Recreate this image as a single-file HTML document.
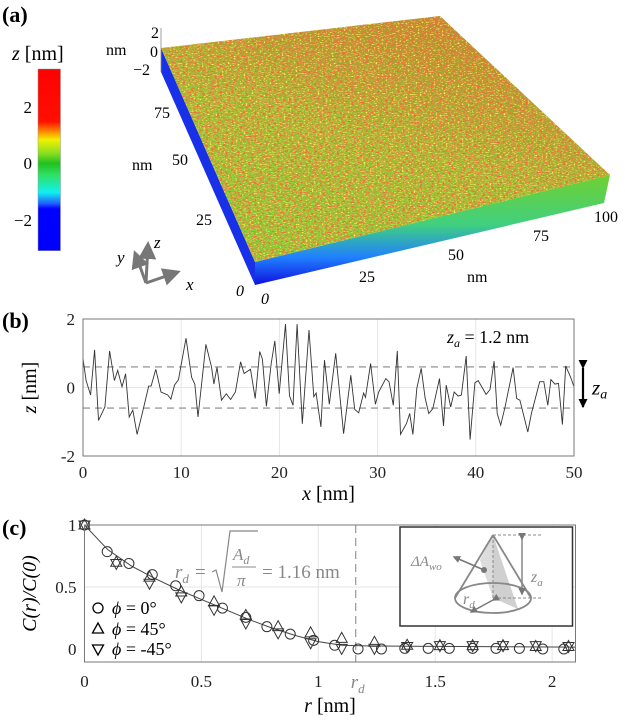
<!DOCTYPE html>
<html><head><meta charset="utf-8"><style>
body{margin:0;background:#fff}
svg{display:block;font-family:"Liberation Serif",serif}
</style></head><body>
<svg id="fig" width="625" height="721" viewBox="0 0 625 721">
<defs>
<linearGradient id="cbar" x1="0" y1="0" x2="0" y2="1">
<stop offset="0" stop-color="#ff0000"/><stop offset="0.29" stop-color="#ff1000"/>
<stop offset="0.34" stop-color="#ff8000"/><stop offset="0.39" stop-color="#f0f000"/>
<stop offset="0.46" stop-color="#90e020"/><stop offset="0.52" stop-color="#20c020"/>
<stop offset="0.58" stop-color="#30e060"/><stop offset="0.68" stop-color="#10f0f0"/>
<stop offset="0.74" stop-color="#2060ff"/><stop offset="0.77" stop-color="#0000ff"/><stop offset="1" stop-color="#0000ff"/>
</linearGradient>
<linearGradient id="topg" x1="0.2" y1="1" x2="0.7" y2="0">
<stop offset="0" stop-color="#7ed038"/><stop offset="0.5" stop-color="#9cc038"/><stop offset="1" stop-color="#b88a30"/>
</linearGradient>
<linearGradient id="frontg" x1="0" y1="0" x2="0" y2="1">
<stop offset="0" stop-color="#70d030"/><stop offset="0.45" stop-color="#40d080"/><stop offset="0.75" stop-color="#2080ff"/><stop offset="1" stop-color="#1010e0"/>
</linearGradient>
<filter id="speck" x="0" y="0" width="1" height="1">
<feTurbulence type="fractalNoise" baseFrequency="0.35 0.8" numOctaves="2" seed="3" result="n"/>
<feColorMatrix in="n" type="matrix" values="0 0 0 0 0.85  0 0 0 0 0.15  0 0 0 0 0.05  5 0 0 0 -2.4" result="r"/>
<feComposite in="r" in2="SourceGraphic" operator="in" result="rc"/>
<feTurbulence type="fractalNoise" baseFrequency="0.5 0.9" numOctaves="1" seed="11" result="n2"/>
<feColorMatrix in="n2" type="matrix" values="0 0 0 0 0.95  0 0 0 0 0.9  0 0 0 0 0.1  5 0 0 0 -2.7" result="y"/>
<feComposite in="y" in2="SourceGraphic" operator="in" result="yc"/>
<feMerge><feMergeNode in="SourceGraphic"/><feMergeNode in="yc"/><feMergeNode in="rc"/></feMerge>
</filter>
<marker id="ah" markerWidth="6" markerHeight="6" refX="5" refY="3" orient="auto"><path d="M0,0 L6,3 L0,6z" fill="#777"/></marker>
<marker id="ahk" markerUnits="userSpaceOnUse" markerWidth="9" markerHeight="9" refX="8" refY="4.5" orient="auto"><path d="M0,0 L9,4.5 L0,9z" fill="#000"/></marker>
<marker id="ahg" markerWidth="5" markerHeight="5" refX="4" refY="2.5" orient="auto"><path d="M0,0 L5,2.5 L0,5z" fill="#777"/></marker>
</defs>

<!-- Panel (a) -->
<text x="2" y="22" font-size="22" font-weight="bold">(a)</text>
<text x="12" y="60" font-size="20"><tspan font-style="italic">z</tspan> [nm]</text>
<rect x="38" y="69" width="22.5" height="181.7" fill="url(#cbar)" stroke="#999" stroke-width="0.5"/>
<g font-size="17" text-anchor="end">
<text x="32" y="113">2</text><text x="32" y="169">0</text><text x="32" y="226">−2</text></g>

<g>
<polygon points="161,48 255,262 255,285 161,72" fill="#1830e8"/>
<polygon points="255,262 610,175 604,203 255,285" fill="url(#frontg)"/>
<polygon points="161,48 440,16 610,175 255,262" fill="url(#topg)" filter="url(#speck)"/>
</g>
<line x1="161" y1="28" x2="161" y2="72" stroke="#888" stroke-width="0.8"/>
<g font-size="16">
<text x="151" y="38">2</text><text x="106" y="55">nm</text><text x="150" y="57">0</text><text x="133" y="75">−2</text>
<text x="154" y="118">75</text><text x="132" y="170">nm</text><text x="172" y="165">50</text><text x="196" y="225">25</text>
<text x="236" y="296" font-style="italic">0</text><text x="261" y="304" font-style="italic">0</text>
<text x="359" y="282">25</text><text x="448" y="260">50</text><text x="467" y="282">nm</text><text x="533" y="241">75</text><text x="594" y="222">100</text>
</g>
<g stroke="#777" stroke-width="3" fill="none">
<line x1="146" y1="283" x2="148" y2="244" marker-end="url(#ah)"/>
<line x1="146" y1="283" x2="135" y2="253" marker-end="url(#ah)"/>
<line x1="146" y1="283" x2="178" y2="272" marker-end="url(#ah)"/>
</g>
<g font-size="17" font-style="italic"><text x="154" y="248">z</text><text x="117" y="263">y</text><text x="186" y="290">x</text></g>

<!-- Panel (b) -->
<text x="2" y="328" font-size="22" font-weight="bold">(b)</text>
<g id="pb"></g>

<!-- Panel (c) -->
<text x="2" y="535" font-size="22" font-weight="bold">(c)</text>
<g id="pc"></g>

<script>
// ---- Panel (b) data ----
const profX = [0,0.32,0.77,1.18,1.58,2.23,2.71,3.20,3.53,3.97,4.34,4.70,5.07,5.51,6.00,6.69,6.93,7.41,7.94,8.63,8.95,9.32,9.72,10.49,11.06,11.39,11.71,12.52,13.09,13.33,13.65,14.10,14.59,15.03,15.52,16.05,16.41,17.06,17.54,17.99,18.27,18.68,19.17,19.53,19.98,20.62,21.03,21.39,21.80,22.33,23.01,23.50,23.74,24.23,24.59,25.08,25.73,26.54,27.27,27.67,28.08,28.57,28.77,29.29,29.78,30.11,30.83,31.16,31.60,32.01,32.33,32.94,33.27,33.59,33.99,34.44,34.85,35.21,35.62,36.30,36.71,36.99,37.44,37.80,38.21,38.53,39.02,39.42,39.91,40.24,41.05,41.45,41.86,42.18,42.54,42.99,43.80,44.17,44.49,45.30,45.66,46.51,46.92,47.33,47.65,48.06,48.42,48.82,49.15,49.64,50];
const profZ = [0.85,0.2,-0.22,1.1,-0.96,-0.57,1.07,0.2,0.5,0.02,0.4,-0.86,-0.66,-1.37,-0.8,0.04,0.04,0.53,-0.13,-0.22,-0.34,0.07,0.23,1.44,0.3,0.1,-0.86,1.26,0.6,0.1,0.59,-0.37,-0.18,-0.35,-0.13,0.75,0.41,0.53,-0.32,1.05,0.83,-0.55,0.7,1.36,-0.18,1.85,-0.24,-0.52,1.85,-1.06,1.68,-0.27,-0.16,-1.15,0.8,-0.49,1.0,-1.35,0.36,-0.64,-0.74,-0.16,-0.29,0.7,-0.49,-0.13,0.26,0.17,-0.52,1.07,-1.37,-1.05,-0.76,-1.37,-0.03,0.56,-0.32,-0.76,-0.62,0.26,-1.12,0.07,-0.57,-0.13,-0.25,-0.22,0.92,-1.52,0.14,0.2,-0.2,-0.06,0.77,-0.76,-1.1,-0.55,0.58,-0.32,-0.37,-1.3,-0.76,0.17,0.17,-0.52,0.23,0.1,0.12,-1.08,0.63,0.31,0.02];
const bXTicks = [0,10,20,30,40,50];
const bYTicks = [-2,0,2];
const zaHalf = [0.6];

// ---- Panel (c) data ----
const r0 = [0,0.097,0.19,0.29,0.39,0.49,0.59,0.69,0.78,0.88,0.98,1.07,1.17,1.27,1.37,1.47,1.56,1.66,1.76,1.86,1.96,2.05];
const c0 = [1,0.785,0.69,0.6,0.51,0.43,0.33,0.255,0.18,0.12,0.07,0.03,0,0,0.005,0.005,0.005,0.005,0.005,0.005,0,0];
const r45 = [0,0.136,0.278,0.414,0.554,0.69,0.828,0.967,1.10,1.24,1.38,1.52,1.66,1.79,1.93,2.07];
const c45 = [1,0.70,0.58,0.46,0.38,0.27,0.18,0.13,0.086,0.054,0.03,0.027,0.027,0.027,0.02,0.02];
const rm45 = [0,0.136,0.278,0.414,0.554,0.69,0.828,0.967,1.10,1.24,1.38,1.52,1.66,1.79,1.93,2.07];
const cm45 = [1,0.69,0.53,0.42,0.32,0.21,0.13,0.05,0.005,0.005,0.02,0.027,0.027,0.027,0.027,0.02];
const fitR = [0,0.1,0.2,0.3,0.4,0.5,0.6,0.7,0.8,0.9,1.0,1.1,1.2,1.4,1.6,1.8,2.0,2.1];
const fitC = [1,0.80,0.67,0.57,0.48,0.40,0.32,0.24,0.17,0.11,0.06,0.03,0.025,0.022,0.02,0.018,0.016,0.015];
const cXTicks = [0,0.5,1,1.5,2];
const cYTicks = [0,0.5,1];
const rdVal = [1.16];

const NS = "http://www.w3.org/2000/svg";
function mk(parent, tag, attrs, txt){const e=document.createElementNS(NS,tag);for(const k in attrs)e.setAttribute(k,attrs[k]);if(txt!==undefined)e.textContent=txt;parent.appendChild(e);return e;}

// ---- Draw panel (b) ----
(function(){
  const g=document.getElementById('pb');
  const L=83,R=574,T=319,B=456;
  const sx=v=>L+(v-0)/(50-0)*(R-L);
  const sy=v=>B-(v+2)/4*(B-T);
  for(const t of bXTicks){ if(t>0&&t<50){const gl=mk(g,'line',{x1:sx(t),x2:sx(t),y1:T,y2:B,stroke:'#e6e6e6','stroke-width':1});
    
    }
    const tl=mk(g,'text',{x:sx(t),y:B+22,'font-size':17,'text-anchor':'middle',fill:'#222'},String(t));
    
    }
  for(const t of bYTicks){ if(t===0){const gl=mk(g,'line',{x1:L,x2:R,y1:sy(t),y2:sy(t),stroke:'#e6e6e6','stroke-width':1});
    
    }
    const tl=mk(g,'text',{x:L-8,y:sy(t)+6,'font-size':17,'text-anchor':'end',fill:'#222'},t<0?'-'+Math.abs(t):String(t));
    
    }
  for(const s of [1,-1]){const d=mk(g,'line',{x1:L,x2:R,y1:sy(s*zaHalf[0]),y2:sy(s*zaHalf[0]),stroke:'#888','stroke-width':1.2,'stroke-dasharray':'7,5'});
    
    }
  const pts=profX.map((x,i)=>sx(x).toFixed(1)+','+sy(profZ[i]).toFixed(1)).join(' ');
  const pl=mk(g,'polyline',{points:pts,fill:'none',stroke:'#333','stroke-width':0.9});
  
  
  const fr=mk(g,'rect',{x:L,y:T,width:R-L,height:B-T,fill:'none',stroke:'#777','stroke-width':1});
  
  
  const ar=mk(g,'line',{x1:583,x2:583,y1:sy(zaHalf[0])+1,y2:sy(-zaHalf[0])-1,stroke:'#000','stroke-width':2.2,'marker-start':'url(#ahk)','marker-end':'url(#ahk)'});
  
  
  const zl=mk(g,'text',{x:592,y:sy(0)+7,'font-size':21,'font-style':'italic'},'z');
  
  
  mk(zl,'tspan',{'font-size':14,dy:4},'a');
  const zt=mk(g,'text',{x:447,y:T+24,'font-size':18},'');
  
  
  mk(zt,'tspan',{'font-style':'italic'},'z');mk(zt,'tspan',{'font-size':12,dy:4,'font-style':'italic'},'a');mk(zt,'tspan',{dy:-4},' = 1.2 nm');
  const yl=mk(g,'text',{x:0,y:0,'font-size':20,'text-anchor':'middle',transform:`translate(36,${(T+B)/2}) rotate(-90)`},'');
  
  
  mk(yl,'tspan',{'font-style':'italic'},'z');mk(yl,'tspan',{},' [nm]');
  const xl=mk(g,'text',{x:(L+R)/2,y:B+44,'font-size':20,'text-anchor':'middle'},'');
  
  
  mk(xl,'tspan',{'font-style':'italic'},'x');mk(xl,'tspan',{},' [nm]');
})();

// ---- Draw panel (c) ----
(function(){
  const g=document.getElementById('pc');
  const L=84.5,R=575.5,B=662;
  const y1px=525,y0px=649;
  const sx=v=>L+v/2.1*(R-L);
  const sy=v=>y0px-v*(y0px-y1px);
  const Ttop=sy(1.0);
  for(const t of cXTicks){ if(t>0){const gl=mk(g,'line',{x1:sx(t),x2:sx(t),y1:Ttop,y2:B,stroke:'#e6e6e6','stroke-width':1});
    
    }
    const tl=mk(g,'text',{x:sx(t),y:B+25,'font-size':17,'text-anchor':'middle',fill:'#222'},String(t));
    
    }
  for(const t of cYTicks){ if(t>0&&t<1){const gl=mk(g,'line',{x1:L,x2:R,y1:sy(t),y2:sy(t),stroke:'#e6e6e6','stroke-width':1});
    
    }
    const tl=mk(g,'text',{x:L-8,y:sy(t)+6,'font-size':17,'text-anchor':'end',fill:'#222'},String(t));
    
    }
  const rdl=mk(g,'line',{x1:sx(rdVal[0]),x2:sx(rdVal[0]),y1:Ttop,y2:B,stroke:'#999','stroke-width':1.2,'stroke-dasharray':'8,5'});
  
  
  const rdt=mk(g,'text',{x:sx(rdVal[0])+2,y:B+26,'font-size':19,'font-style':'italic',fill:'#888','text-anchor':'middle'},'r');
  
  
  mk(rdt,'tspan',{'font-size':13,dy:5},'d');
  const fit=mk(g,'polyline',{points:fitR.map((r,i)=>sx(r).toFixed(1)+','+sy(fitC[i]).toFixed(1)).join(' '),fill:'none',stroke:'#444','stroke-width':1});
  
  
  r0.forEach((r,i)=>{const c=mk(g,'circle',{cx:sx(r),cy:sy(c0[i]),r:5,fill:'none',stroke:'#333','stroke-width':1});
    
    });
  const tri=(x,y,up)=>up?`${x},${y-6} ${x-5.5},${y+4} ${x+5.5},${y+4}`:`${x},${y+6} ${x-5.5},${y-4} ${x+5.5},${y-4}`;
  r45.forEach((r,i)=>{const p=mk(g,'polygon',{points:tri(sx(r),sy(c45[i]),true),fill:'none',stroke:'#333','stroke-width':1});
    
    });
  rm45.forEach((r,i)=>{const p=mk(g,'polygon',{points:tri(sx(r),sy(cm45[i]),false),fill:'none',stroke:'#333','stroke-width':1});
    
    });
  const fr=mk(g,'rect',{x:L,y:Ttop,width:R-L,height:B-Ttop,fill:'none',stroke:'#777','stroke-width':1});
  
  
  const leg=mk(g,'g',{});
  
  
  const rows=[['o','0°',608],['u','45°',629],['d','-45°',649]];
  for(const [m,lab,y] of rows){
    if(m==='o') mk(leg,'circle',{cx:98,cy:y,r:5,fill:'none',stroke:'#000','stroke-width':1.3});
    else mk(leg,'polygon',{points:tri(98,y,m==='u'),fill:'none',stroke:'#000','stroke-width':1.3});
    const t=mk(leg,'text',{x:112,y:y+6,'font-size':18},'');
    
    
    mk(t,'tspan',{'font-style':'italic'},'ϕ');mk(t,'tspan',{},' = '+lab);
  }
  const fg=mk(g,'g',{fill:'#888'});
  
  
  const t1=mk(fg,'text',{x:175,y:578,'font-size':19,'font-style':'italic'},'r');mk(t1,'tspan',{'font-size':13,dy:5},'d');
  mk(fg,'text',{x:195,y:578,'font-size':19},'=');
  mk(fg,'polyline',{points:'212,572 216,570 222,592 230,531 258,531',fill:'none',stroke:'#888','stroke-width':1.2});
  const a=mk(fg,'text',{x:233,y:560,'font-size':17,'font-style':'italic'},'A');mk(a,'tspan',{'font-size':12,dy:4},'d');
  mk(fg,'line',{x1:232,x2:256,y1:567,y2:567,stroke:'#888','stroke-width':1});
  mk(fg,'text',{x:237,y:586,'font-size':17,'font-style':'italic'},'π');
  mk(fg,'text',{x:262,y:578,'font-size':19},'= 1.16 nm');
  const yl=mk(g,'text',{x:0,y:0,'font-size':20,'font-style':'italic','text-anchor':'middle',transform:`translate(36,${(Ttop+B)/2}) rotate(-90)`},'C(r)/C(0)');
  
  
  const xl=mk(g,'text',{x:(L+R)/2,y:712,'font-size':20,'text-anchor':'middle'},'');
  
  
  mk(xl,'tspan',{'font-style':'italic'},'r');mk(xl,'tspan',{},' [nm]');
})();
</script>

<g>
<rect x="400" y="527" width="172.5" height="99" fill="#fff" stroke="#333" stroke-width="1.5"/>
<polygon points="493,535 493,598 518,609" fill="#d0d0d0"/>
<polygon points="493,535 480,560 493,598" fill="#dcdcdc"/>
<ellipse cx="493" cy="598" rx="38" ry="15" fill="none" stroke="#888" stroke-width="1.8"/>
<line x1="493" y1="535" x2="455" y2="598" stroke="#888" stroke-width="1.8"/>
<line x1="493" y1="535" x2="531" y2="598" stroke="#888" stroke-width="1.8"/>
<line x1="493" y1="535" x2="493" y2="598" stroke="#888" stroke-width="1" stroke-dasharray="3,2"/>
<line x1="493" y1="535" x2="542" y2="535" stroke="#888" stroke-width="1" stroke-dasharray="3,2"/>
<line x1="493" y1="598" x2="542" y2="598" stroke="#888" stroke-width="1" stroke-dasharray="3,2"/>
<line x1="522" y1="539" x2="522" y2="594" stroke="#888" stroke-width="1.5" marker-start="url(#ahg)" marker-end="url(#ahg)"/>
<circle cx="484" cy="570" r="3" fill="#777"/>
<line x1="484" y1="570" x2="454" y2="557" stroke="#777" stroke-width="1.5" marker-end="url(#ahg)"/>
<line x1="493" y1="600" x2="471" y2="612" stroke="#777" stroke-width="1.5" marker-start="url(#ahg)" marker-end="url(#ahg)"/>
<text x="411" y="566" font-size="15" font-style="italic" fill="#888">ΔA<tspan font-size="11" dy="4">wo</tspan></text>
<text x="531" y="582" font-size="16" font-style="italic" fill="#888">z<tspan font-size="11" dy="4">a</tspan></text>
<text x="463" y="604" font-size="16" font-style="italic" fill="#888">r<tspan font-size="11" dy="4">d</tspan></text>
</g>
</svg>
</body></html>
